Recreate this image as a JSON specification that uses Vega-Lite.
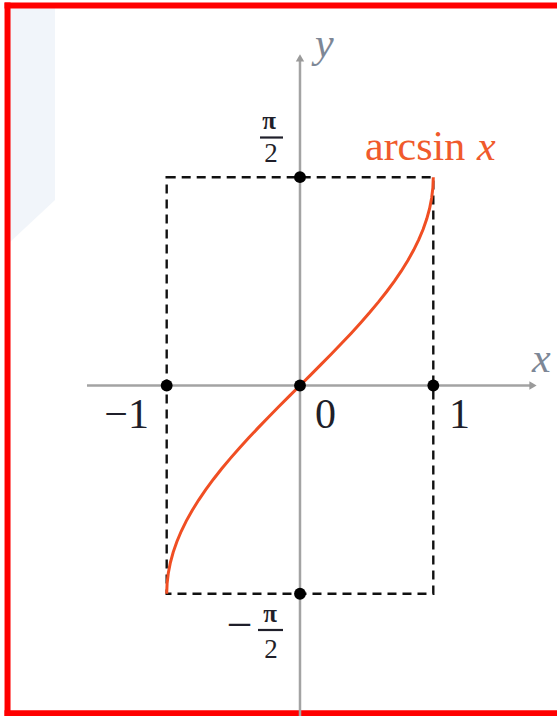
{
  "$schema": "https://vega.github.io/schema/vega-lite/v6.json",
  "width": 557,
  "height": 716,
  "padding": 0,
  "autosize": {"type": "none"},
  "background": "#ffffff",
  "config": {"view": {"stroke": null}, "axis": {"disable": true}},
  "datasets": {
    "backdrop": [
      {"x": -2.1755, "y": 2.847, "y2": 1.082},
      {"x": -1.838, "y": 2.847, "y2": 1.399}
    ],
    "frameSides": [
      {"x": -2.194, "x2": -2.194, "y": -2.4945, "y2": 2.8885}
    ],
    "frameEdges": [
      {"x": -2.2165, "x2": 1.95, "y": 2.866, "y2": 2.866},
      {"x": -2.2165, "x2": 1.95, "y": -2.472, "y2": -2.472}
    ],
    "axes": [
      {"x": 0, "x2": 0, "y": -2.4925, "y2": 2.455},
      {"x": -1.598, "x2": 1.7255, "y": 0, "y2": 0}
    ],
    "arrowUp": [{"x": 0, "y": 2.47}],
    "arrowRight": [{"x": 1.748, "y": 0}],
    "box": [{"x": -1, "x2": 1, "y": -1.5708, "y2": 1.5708}],
    "arcsin": [
      {"x": -1.0, "y": -1.570796},
      {"x": -0.996917, "y": -1.492257},
      {"x": -0.987688, "y": -1.413717},
      {"x": -0.97237, "y": -1.335177},
      {"x": -0.951057, "y": -1.256637},
      {"x": -0.92388, "y": -1.178097},
      {"x": -0.891007, "y": -1.099557},
      {"x": -0.85264, "y": -1.021018},
      {"x": -0.809017, "y": -0.942478},
      {"x": -0.760406, "y": -0.863938},
      {"x": -0.707107, "y": -0.785398},
      {"x": -0.649448, "y": -0.706858},
      {"x": -0.587785, "y": -0.628319},
      {"x": -0.522499, "y": -0.549779},
      {"x": -0.45399, "y": -0.471239},
      {"x": -0.382683, "y": -0.392699},
      {"x": -0.309017, "y": -0.314159},
      {"x": -0.233445, "y": -0.235619},
      {"x": -0.156434, "y": -0.15708},
      {"x": -0.078459, "y": -0.07854},
      {"x": 0.0, "y": 0.0},
      {"x": 0.078459, "y": 0.07854},
      {"x": 0.156434, "y": 0.15708},
      {"x": 0.233445, "y": 0.235619},
      {"x": 0.309017, "y": 0.314159},
      {"x": 0.382683, "y": 0.392699},
      {"x": 0.45399, "y": 0.471239},
      {"x": 0.522499, "y": 0.549779},
      {"x": 0.587785, "y": 0.628319},
      {"x": 0.649448, "y": 0.706858},
      {"x": 0.707107, "y": 0.785398},
      {"x": 0.760406, "y": 0.863938},
      {"x": 0.809017, "y": 0.942478},
      {"x": 0.85264, "y": 1.021018},
      {"x": 0.891007, "y": 1.099557},
      {"x": 0.92388, "y": 1.178097},
      {"x": 0.951057, "y": 1.256637},
      {"x": 0.97237, "y": 1.335177},
      {"x": 0.987688, "y": 1.413717},
      {"x": 0.996917, "y": 1.492257},
      {"x": 1.0, "y": 1.570796}
    ],
    "dots": [
      {"x": -1, "y": 0},
      {"x": 0, "y": 0},
      {"x": 1, "y": 0},
      {"x": 0, "y": 1.5708},
      {"x": 0, "y": -1.5708}
    ],
    "fractionBars": [
      {"x": -0.3, "x2": -0.1275, "y": 1.87, "y2": 1.87},
      {"x": -0.315, "x2": -0.1275, "y": -1.8439, "y2": -1.8439}
    ],
    "piNumerators": [
      {"x": -0.2326, "y": 1.934, "label": "π"},
      {"x": -0.225, "y": -1.784, "label": "π"}
    ],
    "denominators": [
      {"x": -0.2176, "y": 1.685, "label": "2"},
      {"x": -0.2176, "y": -2.055, "label": "2"}
    ],
    "fractionSign": [{"x": -0.355, "y": -1.92, "label": "−"}],
    "ticksRight": [{"x": -1.1328, "y": -0.3205, "label": "−1"}],
    "ticksLeft": [
      {"x": 0.1125, "y": -0.3205, "label": "0"},
      {"x": 1.1178, "y": -0.3205, "label": "1"}
    ],
    "curveName": [{"x": 0.4876, "y": 1.7006, "label": "arcsin"}],
    "curveVar": [{"x": 1.3278, "y": 1.7006, "label": "x"}],
    "axisNames": [
      {"x": 0.1125, "y": 2.477, "label": "y"},
      {"x": 1.7405, "y": 0.1018, "label": "x"}
    ]
  },
  "encoding": {
    "x": {"field": "x", "type": "quantitative", "axis": null,
          "scale": {"domain": [-2.2505, 1.928], "nice": false, "zero": false}},
    "y": {"field": "y", "type": "quantitative", "axis": null,
          "scale": {"domain": [-2.4925, 2.907], "nice": false, "zero": false}}
  },
  "layer": [
    {
      "data": {"name": "backdrop"},
      "mark": {"type": "area", "color": "#f1f5fa", "opacity": 1},
      "encoding": {"y2": {"field": "y2"}}
    },
    {
      "data": {"name": "frameSides"},
      "mark": {"type": "rule", "color": "#ff0000", "strokeWidth": 6},
      "encoding": {"x2": {"field": "x2"}, "y2": {"field": "y2"}}
    },
    {
      "data": {"name": "frameEdges"},
      "mark": {"type": "rule", "color": "#ff0000", "strokeWidth": 6},
      "encoding": {"x2": {"field": "x2"}, "y2": {"field": "y2"}}
    },
    {
      "data": {"name": "box"},
      "mark": {"type": "rect", "fill": null, "fillOpacity": 0, "stroke": "#111111", "strokeWidth": 2.4, "strokeDash": [9, 6]},
      "encoding": {"x2": {"field": "x2"}, "y2": {"field": "y2"}}
    },
    {
      "data": {"name": "axes"},
      "mark": {"type": "rule", "color": "#a3a3a3", "strokeWidth": 2.5},
      "encoding": {"x2": {"field": "x2"}, "y2": {"field": "y2"}}
    },
    {
      "data": {"name": "arrowUp"},
      "mark": {"type": "point", "shape": "triangle-up", "filled": true, "color": "#9a9a9a", "size": 70, "opacity": 1}
    },
    {
      "data": {"name": "arrowRight"},
      "mark": {"type": "point", "shape": "triangle-right", "filled": true, "color": "#9a9a9a", "size": 70, "opacity": 1}
    },
    {
      "data": {"name": "arcsin"},
      "mark": {"type": "line", "color": "#f04e23", "strokeWidth": 3}
    },
    {
      "data": {"name": "dots"},
      "mark": {"type": "point", "shape": "circle", "filled": true, "color": "#000000", "size": 140, "opacity": 1}
    },
    {
      "data": {"name": "fractionBars"},
      "mark": {"type": "rule", "color": "#1f1f2a", "strokeWidth": 2.2},
      "encoding": {"x2": {"field": "x2"}, "y2": {"field": "y2"}}
    },
    {
      "data": {"name": "piNumerators"},
      "mark": {"type": "text", "font": "Liberation Serif", "fontSize": 25, "fontWeight": "bold", "align": "center", "baseline": "alphabetic", "color": "#1f1f2a"},
      "encoding": {"text": {"field": "label"}}
    },
    {
      "data": {"name": "denominators"},
      "mark": {"type": "text", "font": "Liberation Serif", "fontSize": 27, "align": "center", "baseline": "alphabetic", "color": "#1f1f2a"},
      "encoding": {"text": {"field": "label"}}
    },
    {
      "data": {"name": "fractionSign"},
      "mark": {"type": "text", "font": "Liberation Serif", "fontSize": 46, "align": "right", "baseline": "alphabetic", "color": "#1f1f2a"},
      "encoding": {"text": {"field": "label"}}
    },
    {
      "data": {"name": "ticksRight"},
      "mark": {"type": "text", "font": "Liberation Serif", "fontSize": 42, "align": "right", "baseline": "alphabetic", "color": "#1f1f2a"},
      "encoding": {"text": {"field": "label"}}
    },
    {
      "data": {"name": "ticksLeft"},
      "mark": {"type": "text", "font": "Liberation Serif", "fontSize": 42, "align": "left", "baseline": "alphabetic", "color": "#1f1f2a"},
      "encoding": {"text": {"field": "label"}}
    },
    {
      "data": {"name": "curveName"},
      "mark": {"type": "text", "font": "Liberation Serif", "fontSize": 42, "align": "left", "baseline": "alphabetic", "color": "#f05a2c"},
      "encoding": {"text": {"field": "label"}}
    },
    {
      "data": {"name": "curveVar"},
      "mark": {"type": "text", "font": "Liberation Serif", "fontSize": 42, "fontStyle": "italic", "align": "left", "baseline": "alphabetic", "color": "#f05a2c"},
      "encoding": {"text": {"field": "label"}}
    },
    {
      "data": {"name": "axisNames"},
      "mark": {"type": "text", "font": "Liberation Serif", "fontSize": 42, "fontStyle": "italic", "align": "left", "baseline": "alphabetic", "color": "#7d8796"},
      "encoding": {"text": {"field": "label"}}
    }
  ]
}
